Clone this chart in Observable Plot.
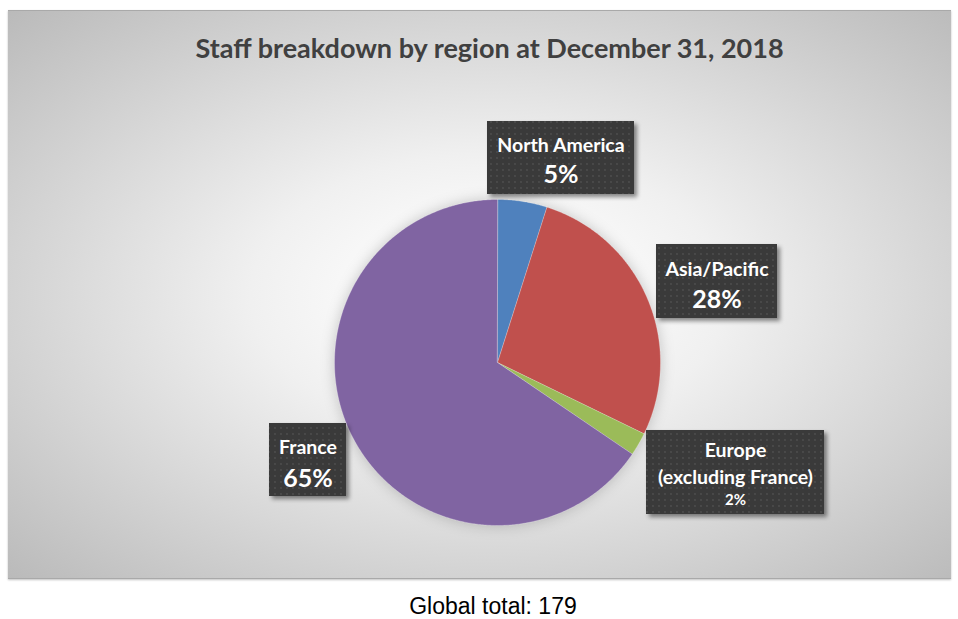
<!DOCTYPE html>
<html>
<head>
<meta charset="utf-8">
<script src="https://cdn.jsdelivr.net/npm/d3@7"></script>
<script src="https://cdn.jsdelivr.net/npm/@observablehq/plot@0.6"></script>
<style>
  html, body { margin: 0; padding: 0; background: #ffffff; }
  body { width: 958px; height: 619px; position: relative; overflow: hidden; }
  #panel {
    position: absolute; left: 8px; top: 10px; width: 943px; height: 567px;
    background: radial-gradient(ellipse farthest-corner at 51% 50%, #ffffff 8%, #f0f0f0 35%, #bababa 100%);
    border-top: 1px solid #a9a9a9; border-bottom: 1px solid #a9a9a9;
    box-shadow: 0 1px 2px rgba(0,0,0,0.25);
  }
  #title {
    position: absolute; left: 0; top: 20px; width: 963px; text-align: center;
    font-family: Lato, "Open Sans", sans-serif; font-weight: 700; font-size: 27px; color: #404040;
  }
  #chart { position: absolute; left: 0; top: 0; }
  #chart svg { background: transparent; overflow: visible; }
  .pie { filter: drop-shadow(0 0 7px rgba(0,0,0,0.2)); }
  .lbox { filter: drop-shadow(3px 3px 2px rgba(0,0,0,0.45)); }
  #caption {
    position: absolute; left: 0; top: 593px; width: 986px; text-align: center;
    font-family: "Liberation Sans", Arial, sans-serif; font-size: 23px; color: #000;
  }
</style>
</head>
<body>
<svg width="0" height="0" style="position:absolute">
  <defs>
    <pattern id="dots" width="6" height="6" patternUnits="userSpaceOnUse">
      <rect width="6" height="6" fill="#3a3a3a"></rect>
      <circle cx="3" cy="3" r="0.9" fill="#4f4f4f"></circle>
    </pattern>
  </defs>
</svg>
<div id="panel">
  <div id="title">Staff breakdown by region at December 31, 2018</div>
  <div id="chart"></div>
</div>
<div id="caption">Global total: 179</div>
<script>
// ---- data ----
const regions = ["North America", "Asia/Pacific", "Europe (excluding France)", "France"];
const labelNames = ["North America", "Asia/Pacific", "Europe\n(excluding France)", "France"];
const shares = [4.9, 27.3, 2.3, 65.5];           // slice sizes as measured on the pie
const pctLabels = ["5%", "28%", "2%", "65%"];     // printed labels
const colors = ["#4F81BD", "#C0504D", "#9BBB59", "#8064A2"];

// ---- layout ----
const W = 943, H = 567;
const cx = 489, cy = 351, R = 163;               // pie centre and radius in px
// label boxes: offset of box centre from pie centre (px), box size (px), line offsets
const labelLayout = [
  {dx: 63.5,  dy: -204.5, w: 147, h: 73, nameDy: -14,   pctDy: 16.5, pctSize: 25},
  {dx: 219.5, dy: -81,    w: 121, h: 74, nameDy: -14,   pctDy: 18,   pctSize: 25},
  {dx: 238,   dy: 110,    w: 178, h: 84, nameDy: -10.5, pctDy: 27.5, pctSize: 15},
  {dx: -189.5, dy: 97.5,  w: 77,  h: 73, nameDy: -14,   pctDy: 18.5, pctSize: 25}
];

// ---- slices ----
const table = regions.map((r, i) => ({region: r, value: shares[i]}));
const arcs = d3.pie().sort(null).value(d => d.value).startAngle(0).endAngle(2 * Math.PI)(table);
const pts = [];
for (const a of arcs) {
  const n = Math.max(2, Math.ceil((a.endAngle - a.startAngle) / (Math.PI / 360)));
  pts.push({region: a.data.region, x: 0, y: 0});
  for (let k = 0; k <= n; k++) {
    const t = a.startAngle + (a.endAngle - a.startAngle) * k / n;
    pts.push({region: a.data.region, x: Math.sin(t), y: Math.cos(t)});
  }
}

const labels = regions.map((r, i) => {
  const L = labelLayout[i];
  const x = L.dx / R, y = -L.dy / R;
  return {
    region: r, name: labelNames[i], pct: pctLabels[i],
    x, y,
    x1: x - L.w / 2 / R, x2: x + L.w / 2 / R,
    y1: y - L.h / 2 / R, y2: y + L.h / 2 / R,
    yName: y - L.nameDy / R, yPct: y - L.pctDy / R, pctSize: L.pctSize
  };
});

const font = "Lato, 'Open Sans', sans-serif";
const chart = Plot.plot({
  width: W, height: H,
  margin: 0,
  x: {domain: [-cx / R, (W - cx) / R], axis: null},
  y: {domain: [-(H - cy) / R, cy / R], axis: null},
  color: {domain: regions, range: colors},
  style: {background: "transparent", overflow: "visible"},
  marks: [
    Plot.line(pts, {x: "x", y: "y", z: "region", fill: "region", stroke: "#ffffff",
      strokeOpacity: 0.35, strokeWidth: 0.75, curve: "linear-closed", className: "pie"}),
    Plot.rect(labels, {x1: "x1", x2: "x2", y1: "y1", y2: "y2", fill: "url(#dots)", className: "lbox"}),
    Plot.text(labels, {x: "x", y: "yName", text: "name", fill: "#ffffff", fontSize: 19.5,
      fontWeight: "bold", lineHeight: 1.35, fontFamily: font}),
    Plot.text(labels, {x: "x", y: "yPct", text: "pct", fill: "#ffffff", fontSize: d => d.pctSize,
      fontWeight: "bold", fontFamily: font})
  ]
});
document.getElementById("chart").appendChild(chart);
</script>
</body>
</html>
